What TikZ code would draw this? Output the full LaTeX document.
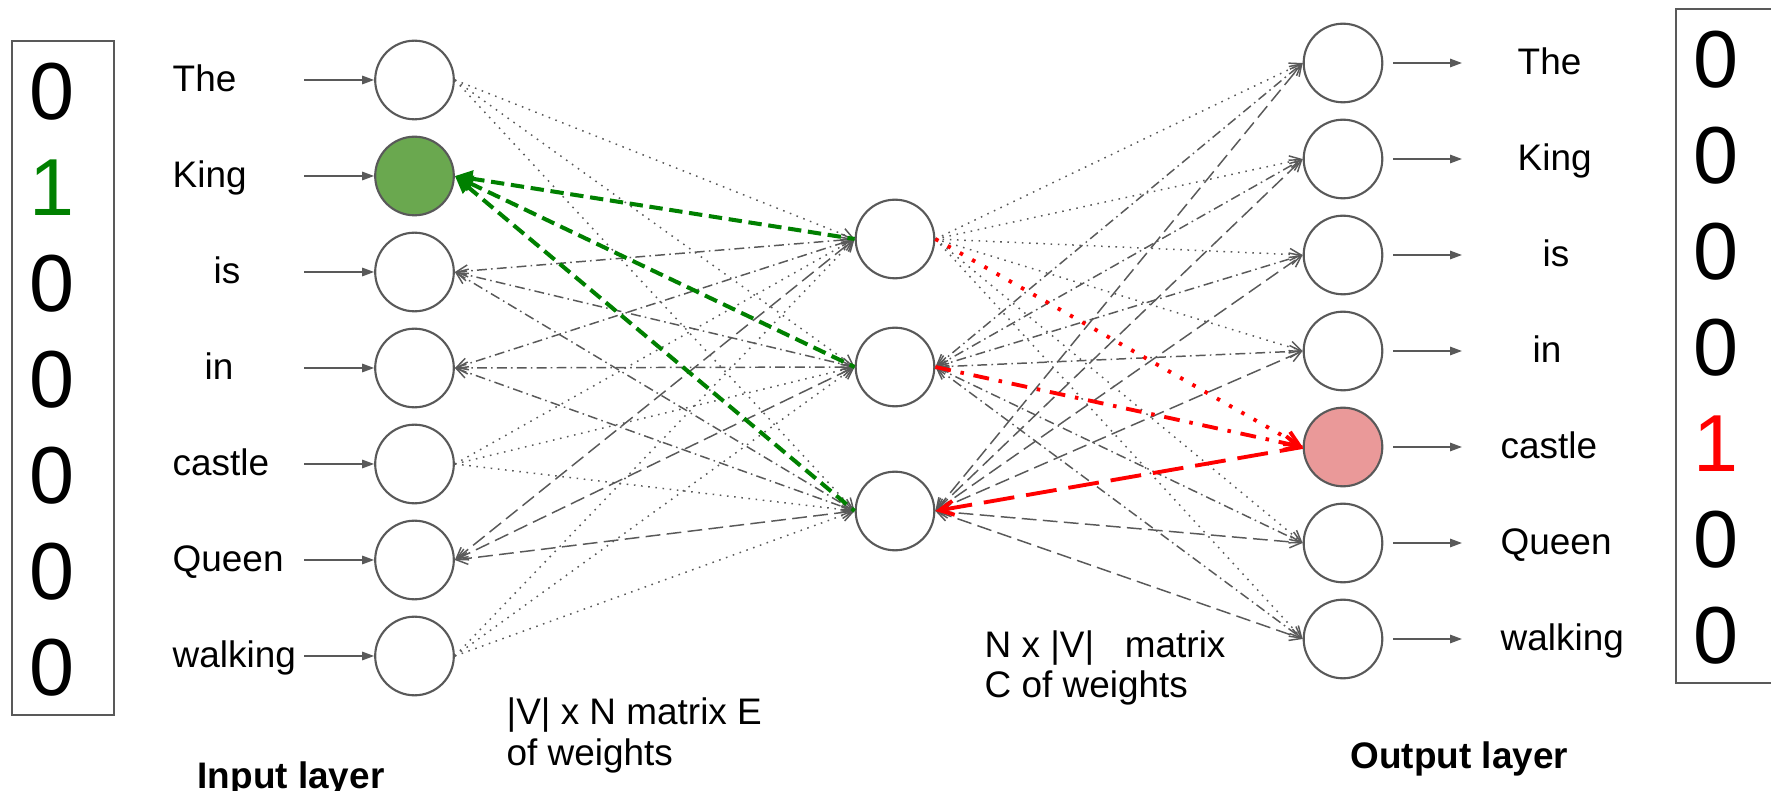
\documentclass[tikz,border=0pt]{standalone}
\usepackage{fontspec}
\setmainfont{Liberation Sans}
\usetikzlibrary{arrows.meta}

\definecolor{nodegray}{HTML}{595959}
\definecolor{kinggreen}{HTML}{008000}
\definecolor{kingfill}{HTML}{6AA84F}
\definecolor{castlered}{HTML}{FF0000}
\definecolor{castlefill}{HTML}{EA9999}

\begin{document}
\begin{tikzpicture}[x=0.01cm, y=-0.01cm,
    neuron/.style={draw=nodegray, circle, line width=0.6pt, minimum size=0.786cm,
                   inner sep=0pt, fill=white},
    word/.style={anchor=base west, inner sep=0pt, font=\fontsize{10.5}{12.5}\selectfont},
    digit/.style={anchor=base, inner sep=0pt, font=\fontsize{23}{27}\selectfont},
    note/.style={word, align=left, font=\fontsize{10.5}{11.4}\selectfont},
    layer/.style={word, font=\fontsize{10.5}{12.5}\selectfont\bfseries},
    inarr/.style={-{Triangle[length=3.4pt,width=2.4pt]}, nodegray, line width=0.45pt},
    wire/.style={nodegray, line width=0.42pt, >={Straight Barb[length=3.2pt,width=3.4pt]}},
    wdot/.style={wire, dash pattern=on 0.45pt off 1.6pt},
    wdashdot/.style={wire, dash pattern=on 2.8pt off 1.2pt on 0.45pt off 1.2pt},
    wdash/.style={wire, dash pattern=on 4.2pt off 1.8pt},
    kingline/.style={kinggreen, line width=1.15pt, dash pattern=on 3.8pt off 1.9pt,
                     {Triangle[length=5pt,width=4.6pt]}-},
    redline/.style={castlered, line width=1.1pt, >={Straight Barb[length=4pt,width=4pt]}},
    vecbox/.style={draw=nodegray, line width=0.55pt}
  ]
  \useasboundingbox (0,0) rectangle (1771,791);

  % one-hot vectors
  \draw[vecbox] (12,41) rectangle (114,715);
  \draw[vecbox] (1771,9) -- (1676,9) -- (1676,683) -- (1771,683);
  \foreach \d/\c [count=\k] in {0/black,1/kinggreen,0/black,0/black,0/black,0/black,0/black}
    \node[digit, text=\c] (din\k) at (52,{24+96*\k}) {\d};
  \foreach \d/\c [count=\k] in {0/black,0/black,0/black,0/black,1/castlered,0/black,0/black}
    \node[digit, text=\c] (dout\k) at (1716,{-8+96*\k}) {\d};

  % vocabulary
  \foreach \w/\dx [count=\k] in {The/0,King/0,is/41,in/32,castle/0,Queen/0,walking/0}
    \node[word] (win\k) at ({172+\dx},{-4+96*\k}) {\w};
  \foreach \w/\dx [count=\k] in {The/17,King/17,is/42,in/32,castle/0,Queen/0,walking/0}
    \node[word] (wout\k) at ({1500+\dx},{-21+96*\k}) {\w};

  % layers
  \foreach \f [count=\k] in {white,kingfill,white,white,white,white,white} {
    \node[neuron, fill=\f] (x\k) at (414.5,{-16+96*\k}) {};
    \coordinate (src\k) at (304,{-16+96*\k});
    \draw[inarr] (src\k) -- (x\k.west);
  }
  \foreach \y [count=\k] in {239,367,511}
    \node[neuron] (h\k) at (895,\y) {};
  \foreach \f [count=\k] in {white,white,white,white,castlefill,white,white} {
    \node[neuron, fill=\f] (y\k) at (1343,{-33+96*\k}) {};
    \coordinate (dst\k) at (1462,{-33+96*\k});
    \draw[inarr, shorten <=0.1cm] (y\k.east) -- (dst\k);
  }

  % matrix E
  \foreach \h in {1,2,3} {
    \draw[wdot, ->] (x1.east) -- (h\h.west);
    \draw[wdashdot, <->] (x3.east) -- (h\h.west);
    \draw[wdashdot, <->] (x4.east) -- (h\h.west);
    \draw[wdot, ->] (x5.east) -- (h\h.west);
    \draw[wdash, <->] (x6.east) -- (h\h.west);
    \draw[wdot, ->] (x7.east) -- (h\h.west);
  }
  % matrix C
  \foreach \o in {1,2,3,4,6,7} {
    \draw[wdot, ->] (h1.east) -- (y\o.west);
    \draw[wdashdot, <->] (h2.east) -- (y\o.west);
    \draw[wdash, <->] (h3.east) -- (y\o.west);
  }
  \foreach \h in {1,2,3}
    \draw[kingline] (x2.east) -- (h\h.west);
  \draw[redline, dash pattern=on 1pt off 3pt, ->] (h1.east) -- (y5.west);
  \draw[redline, dash pattern=on 4.5pt off 2.8pt on 1pt off 2.8pt, ->] (h2.east) -- (y5.west);
  \draw[redline, dash pattern=on 8.8pt off 3.4pt, <-] (h3.east) -- (y5.west);

  \node[note] (emat) at (506,765) {|V| x N matrix E\\of weights};
  \node[note] (cmat) at (984,698) {N x |V|\ \ \ matrix\\C of weights};
  \node[layer] (inlbl) at (197,788) {Input layer};
  \node[layer] (outlbl) at (1350,768) {Output layer};
\end{tikzpicture}
\end{document}
